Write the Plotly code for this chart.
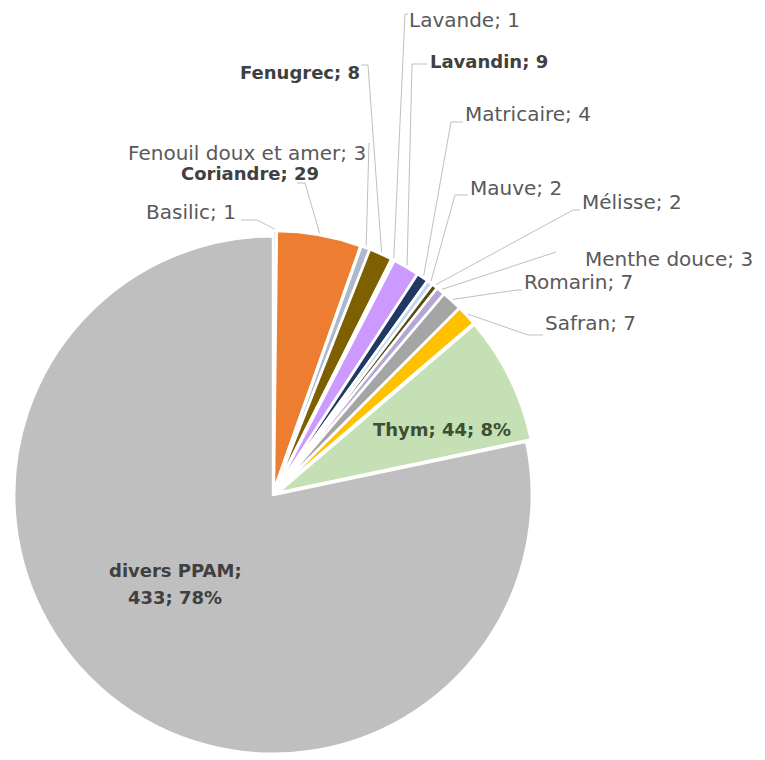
import math
import plotly.graph_objects as go

# ---- data ----
categories = ["Basilic", "Coriandre", "Fenouil doux et amer", "Fenugrec", "Lavande",
              "Lavandin", "Matricaire", "Mauve", "Mélisse", "Menthe douce",
              "Romarin", "Safran", "Thym", "divers PPAM"]
values = [1, 29, 3, 8, 1, 9, 4, 2, 2, 3, 7, 7, 44, 433]

# ---- styles ----
colors = ["#9DC3E6", "#ED7D31", "#ADB9CA", "#7F6000", "#DEEBF7",
          "#CC99FF", "#203864", "#BDD7EE", "#5B4A12", "#B4A7D6",
          "#A5A5A5", "#FFC000", "#C5E0B4", "#BFBFBF"]
pulls = [0.02] * 13 + [0.0]
bold = {"Coriandre", "Fenugrec", "Lavandin", "Thym", "divers PPAM"}

OFF = 8                      # page body margin
W, H = 765 - OFF, 760 - OFF  # figure size so it fits the window
CX, CY, BOX = 273, 495, 528  # pie box in window pixels

# label layout (window pixels): text x, text y, xanchor, leader polyline start points
label_layout = {
    "Basilic": (238, 212, "right", [(241, 220), (257, 220)]),
    "Coriandre": (321, 173, "right", [(297, 183), (305, 183)]),
    "Fenouil doux et amer": (368, 153, "right", [(369, 143)]),
    "Fenugrec": (362, 72, "right", [(361, 65), (368, 65)]),
    "Lavande": (407, 20, "left", [(408, 14), (405, 14)]),
    "Lavandin": (428, 61, "left", [(427, 64), (412, 64)]),
    "Matricaire": (463, 114, "left", [(463, 122), (451, 122)]),
    "Mauve": (468, 188, "left", [(468, 195), (455, 195)]),
    "Mélisse": (580, 202, "left", [(580, 210), (573, 210)]),
    "Menthe douce": (583, 259, "left", [(556, 252)]),
    "Romarin": (522, 282, "left", [(522, 290), (517, 290)]),
    "Safran": (543, 323, "left", [(543, 335), (528, 335)]),
}


def px(x):
    return (x - OFF) / W


def py(y):
    return 1 - (y - OFF) / H


total = sum(values)
max_pull = max(pulls)
r = BOX / 2 / (1 + max_pull)

fig = go.Figure(go.Pie(
    labels=categories,
    values=values,
    sort=False,
    direction="clockwise",
    rotation=0,
    pull=pulls,
    textinfo="none",
    hoverinfo="label+value+percent",
    marker=dict(colors=colors, line=dict(color="white", width=2.5)),
    domain=dict(x=[px(CX - BOX / 2), px(CX + BOX / 2)],
                y=[max(0, py(CY + BOX / 2)), py(CY - BOX / 2)]),
    showlegend=False,
))

annotations = []
shapes = []
cum = 0
for name, v, p in zip(categories, values, pulls):
    theta = 2 * math.pi * (cum + v / 2) / total
    cum += v
    if name in label_layout:
        tx, ty, anchor, pts = label_layout[name]
        rr = r * (1 + p) + 2
        sx = CX + rr * math.sin(theta)
        sy = CY - rr * math.cos(theta)
        allpts = pts + [(sx, sy)]
        path = "M " + " L ".join(f"{px(a):.5f},{py(b):.5f}" for a, b in allpts)
        shapes.append(dict(type="path", xref="paper", yref="paper", path=path,
                           line=dict(color="#BFBFBF", width=1)))
        isb = name in bold
        annotations.append(dict(
            x=px(tx), y=py(ty), xref="paper", yref="paper",
            xanchor=anchor, yanchor="middle", showarrow=False,
            text=(f"<b>{name}; {v}</b>" if isb else f"{name}; {v}"),
            font=dict(family="DejaVu Sans", size=18 if isb else 20,
                      color="#404040" if isb else "#595959"),
        ))

# inside labels
pct = {n: round(100 * v / total) for n, v in zip(categories, values)}
annotations.append(dict(
    x=px(442), y=py(429), xref="paper", yref="paper", showarrow=False,
    xanchor="center", yanchor="middle",
    text=f"<b>Thym; {values[12]}; {pct['Thym']}%</b>",
    font=dict(family="DejaVu Sans", size=18, color="#3D4F35"),
))
annotations.append(dict(
    x=px(175), y=py(570), xref="paper", yref="paper", showarrow=False,
    xanchor="center", yanchor="middle",
    text="<b>divers PPAM;</b>",
    font=dict(family="DejaVu Sans", size=18, color="#404040"),
))
annotations.append(dict(
    x=px(175), y=py(597), xref="paper", yref="paper", showarrow=False,
    xanchor="center", yanchor="middle",
    text=f"<b>{values[13]}; {pct['divers PPAM']}%</b>",
    font=dict(family="DejaVu Sans", size=18, color="#404040"),
))

fig.update_layout(
    width=W, height=H,
    margin=dict(l=0, r=0, t=0, b=0),
    paper_bgcolor="white",
    plot_bgcolor="white",
    annotations=annotations,
    shapes=shapes,
)

fig.write_html("out.html")
